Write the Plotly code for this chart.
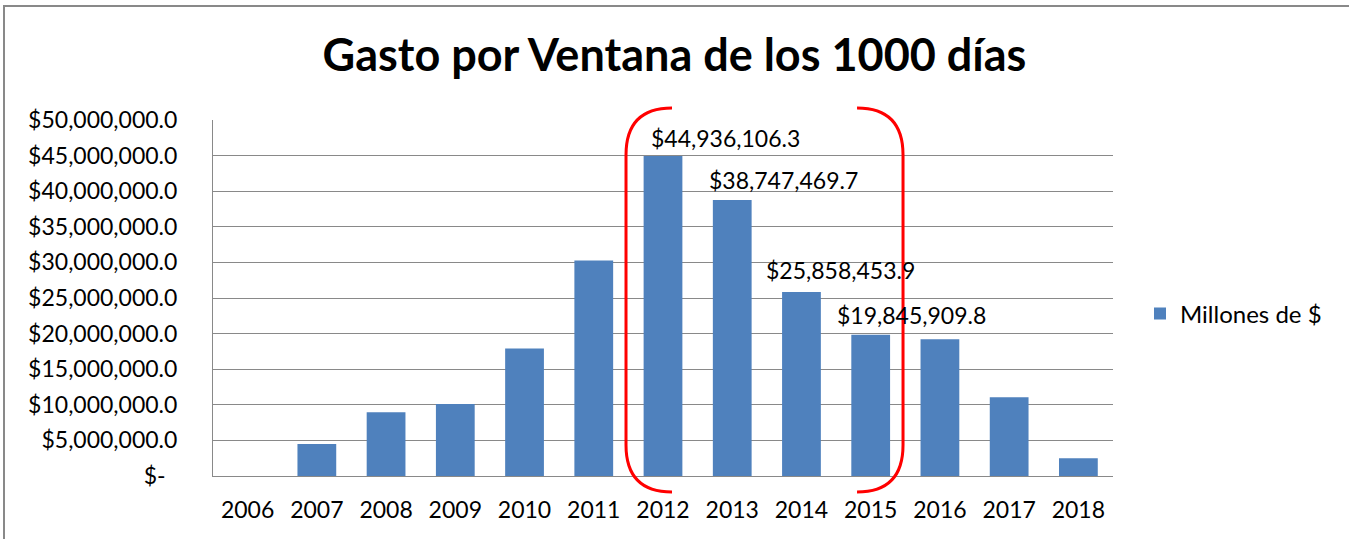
import plotly.graph_objects as go

# datos
anios = ['2006', '2007', '2008', '2009', '2010', '2011', '2012',
         '2013', '2014', '2015', '2016', '2017', '2018']
gasto = [0, 4480000, 8960000, 10100000, 17900000, 30250000, 44936106.3,
         38747469.7, 25858453.9, 19845909.8, 19200000, 11060000, 2500000]
anios_etiqueta = ['2012', '2013', '2014', '2015']
ticks_y = [0, 5e6, 10e6, 15e6, 20e6, 25e6, 30e6, 35e6, 40e6, 45e6, 50e6]

def fmt(v):
    return '$-\u00a0\u00a0' if v == 0 else '${:,.1f}'.format(v)

FONT = 'Lato'
AZUL = '#4F81BD'
GRIS = '#898989'

fig = go.Figure()
fig.add_trace(go.Bar(x=anios, y=gasto, name='Millones de $', marker_color=AZUL,
                     marker_line_width=0))

# etiquetas (desplazadas a mano como en el original)
dx = [-14, -25, -37, -36]
dy = [2, 4, 6, 4]
for a, sx, sy in zip(anios_etiqueta, dx, dy):
    i = anios.index(a)
    fig.add_annotation(x=i, y=gasto[i], text=fmt(gasto[i]), showarrow=False, xanchor='left',
                       yanchor='bottom', xshift=sx, yshift=sy,
                       font=dict(family=FONT, size=23, color='black'))

# corchetes rojos (paper coords, área de trazado 213..1113 x 120..476 px)
L, T, W, H = 213, 120, 900, 356
def px(x, y):
    return '{:.4f},{:.4f}'.format((x - L) / W, (T + H - y) / H)

izq = 'M {} Q {} {} L {} Q {} {}'.format(px(672, 108), px(626, 108), px(626, 155),
                                            px(626, 445), px(626, 492), px(672, 492))
der = 'M {} Q {} {} L {} Q {} {}'.format(px(857, 108), px(903, 108), px(903, 155),
                                            px(903, 445), px(903, 492), px(857, 492))
for p in (izq, der):
    fig.add_shape(type='path', path=p, xref='paper', yref='paper',
                  line=dict(color='#FF0000', width=3), layer='above')

# borde exterior del gráfico
fig.add_shape(type='rect', xref='paper', yref='paper',
              x0=(4 - L) / W, x1=(1360 - L) / W, y0=(T + H - 560) / H, y1=(T + H - 6) / H,
              line=dict(color=GRIS, width=2), layer='below')

fig.update_layout(
    width=1349, height=539,
    margin=dict(l=213, r=236, t=120, b=63, autoexpand=False),
    paper_bgcolor='white', plot_bgcolor='white',
    title=dict(text='<b>Gasto por Ventana de los 1000 días</b>', x=0.5, xanchor='center',
               xref='container', yref='container',
               y=0.897, yanchor='middle', font=dict(family=FONT, size=45, color='black')),
    font=dict(family=FONT, size=23, color='black'),
    bargap=0.44,
    showlegend=True,
    legend=dict(x=1.03, y=0.455, xanchor='left', yanchor='middle',
                font=dict(family=FONT, size=24), itemwidth=30),
)
fig.update_xaxes(type='category', showgrid=False, showline=True, linecolor=GRIS, linewidth=1,
                 ticks='', ticklabelstandoff=13, tickfont=dict(size=23), automargin=False)
fig.update_yaxes(range=[0, 50e6], tickvals=ticks_y, ticktext=[fmt(v) for v in ticks_y],
                 showgrid=True, gridcolor=GRIS, gridwidth=1, showline=True,
                 linecolor=GRIS, linewidth=1, zeroline=False, ticks='',
                 ticklabelstandoff=30, tickfont=dict(size=23), automargin=False)

fig.write_html('out.html', config={'displayModeBar': False},
               post_script="document.body.style.margin='0';")
